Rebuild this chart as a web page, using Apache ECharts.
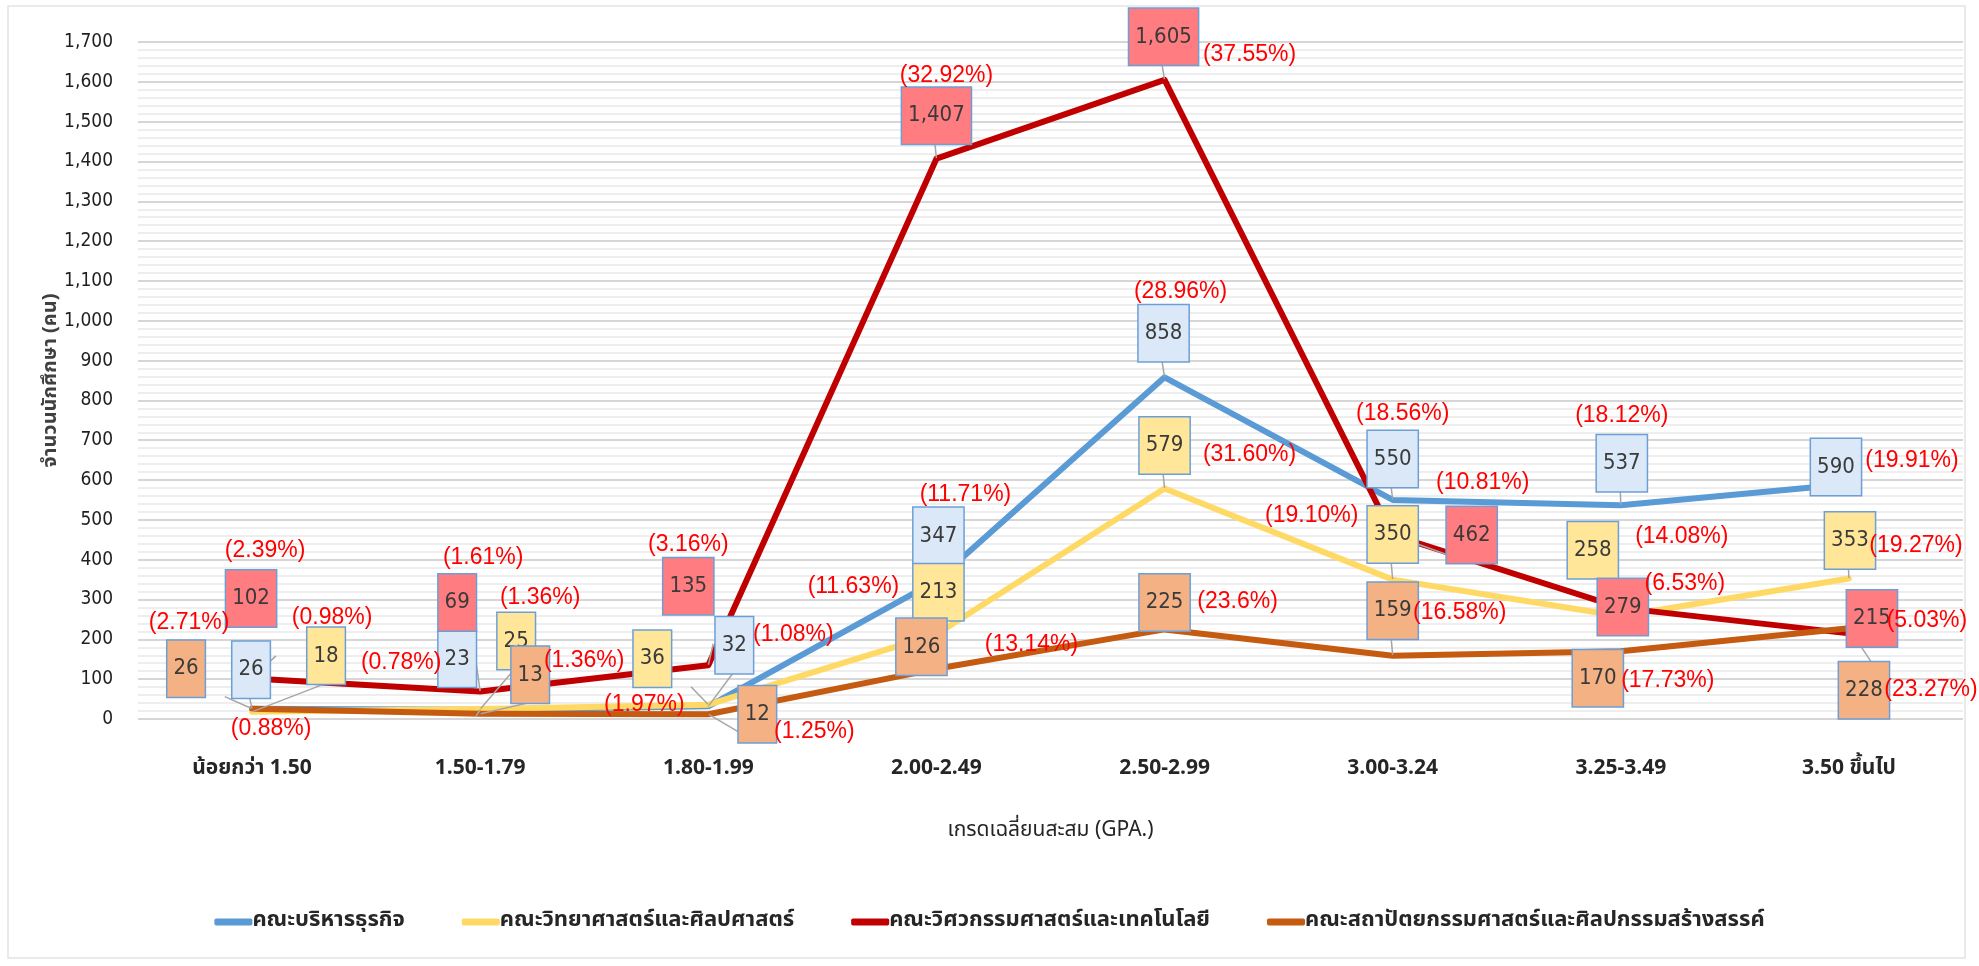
<!DOCTYPE html>
<html>
<head>
<meta charset="utf-8">
<title>จำนวนนักศึกษาตามเกรดเฉลี่ยสะสม</title>
<script src="https://cdn.jsdelivr.net/npm/echarts@6/dist/echarts.min.js"></script>
<style>
  html, body { margin: 0; padding: 0; background: #ffffff; }
  #chart { width: 1979px; height: 966px; }
</style>
</head>
<body>
<div id="chart"></div>
<script>
// ข้อมูล
var categories = ["น้อยกว่า 1.50", "1.50-1.79", "1.80-1.99", "2.00-2.49", "2.50-2.99", "3.00-3.24", "3.25-3.49", "3.50 ขึ้นไป"];
var seriesNames = [
  "คณะบริหารธุรกิจ",
  "คณะวิทยาศาสตร์และศิลปศาสตร์",
  "คณะวิศวกรรมศาสตร์และเทคโนโลยี",
  "คณะสถาปัตยกรรมศาสตร์และศิลปกรรมสร้างสรรค์"
];
var businessValues = [26, 23, 32, 347, 858, 550, 537, 590];
var businessPct = ["0.88%", "0.78%", "1.08%", "11.71%", "28.96%", "18.56%", "18.12%", "19.91%"];
var scienceValues = [18, 25, 36, 213, 579, 350, 258, 353];
var sciencePct = ["0.98%", "1.36%", "1.97%", "11.63%", "31.60%", "19.10%", "14.08%", "19.27%"];
var engValues = [102, 69, 135, 1407, 1605, 462, 279, 215];
var engPct = ["2.39%", "1.61%", "3.16%", "32.92%", "37.55%", "10.81%", "6.53%", "5.03%"];
var archValues = [26, 13, 12, 126, 225, 159, 170, 228];
var archPct = ["2.71%", "1.36%", "1.25%", "13.14%", "23.6%", "16.58%", "17.73%", "23.27%"];
var yMin = 0, yMax = 1700, yStep = 100;

// ตำแหน่งป้ายกำกับ (เลื่อนจากจุดข้อมูล, px)
var boxOffsets = [
  [[-1, -39], [-23, -51], [26, -61], [2, -45], [-1, -44], [0, -41], [1, -42], [-13, -17]],
  [[74, -56], [36, -68], [-56, -46], [2, -42], [0, -43], [0, -45], [-28, -66], [1, -38]],
  [[-1, -80], [-23, -89], [-20, -79], [0, -43], [-1, -43], [79, 0], [2, -1], [23, -15]],
  [[-66, -40], [50, -39], [49, 0], [-15, -22], [0, -27], [0, -45], [-23, 27], [15, 62]]
];
var pctOffsets = [
  [[19, 20], [-79, -47], [85, -72], [29, -86], [16, -86], [10, -86], [1, -89], [63, -23]],
  [[80, -94], [60, -111], [-64, 0], [-83, -48], [85, -34], [-81, -64], [61, -80], [67, -33]],
  [[13, -128], [3, -134], [-20, -121], [10, -83], [85, -25], [90, -52], [64, -24], [78, -13]],
  [[-63, -86], [104, -53], [106, 17], [95, -24], [73, -28], [67, -43], [47, 29], [82, 61]]
];

var lineColors = ["#5b9bd5", "#ffd966", "#c00000", "#c55a11"];
var boxColors = ["#dae8f7", "#ffe699", "#ff7c80", "#f4b183"];
var allValues = [businessValues, scienceValues, engValues, archValues];
var allPct = [businessPct, sciencePct, engPct, archPct];

var thaiFont = "'Noto Sans Thai', 'Noto Sans', 'DejaVu Sans', sans-serif";
var boxFont = "'Liberation Sans Narrow', 'DejaVu Sans Condensed', 'Liberation Sans', sans-serif";

var series = [];
allValues.forEach(function (vals, s) {
  series.push({
    name: seriesNames[s],
    type: "line",
    data: vals.map(function (v, i) {
      return { value: v, label: { offset: boxOffsets[s][i] } };
    }),
    symbol: "circle",
    symbolSize: 1,
    itemStyle: { color: lineColors[s] },
    lineStyle: { width: 6, color: lineColors[s], cap: "round", join: "round" },
    label: {
      show: true,
      position: "inside",
      formatter: function (p) { return p.value.toLocaleString("en-US"); },
      fontFamily: boxFont,
      fontSize: 22,
      lineHeight: 24,
      color: "#3a3a3a",
      backgroundColor: boxColors[s],
      borderColor: "#6d9fd6",
      borderWidth: 1.5,
      padding: [16, 6]
    },
    labelLine: { show: true, lineStyle: { color: "#a6a6a6", width: 1.5 } },
    z: 3
  });
});
allPct.forEach(function (pcts, s) {
  series.push({
    name: seriesNames[s] + " %",
    type: "line",
    data: allValues[s].map(function (v, i) {
      return { value: v, label: { offset: pctOffsets[s][i] } };
    }),
    symbol: "circle",
    symbolSize: 1,
    itemStyle: { color: "rgba(0,0,0,0)" },
    lineStyle: { width: 0, opacity: 0 },
    silent: true,
    label: {
      show: true,
      position: "inside",
      formatter: function (p) { return "(" + pcts[p.dataIndex] + ")"; },
      fontFamily: "'Liberation Sans', sans-serif",
      fontSize: 23,
      color: "#ff0000"
    },
    z: 4
  });
});

var chart = echarts.init(document.getElementById("chart"));
chart.setOption({
  animation: false,
  backgroundColor: "#ffffff",
  graphic: [{
    type: "rect",
    shape: { x: 8, y: 6, width: 1957, height: 952 },
    style: { fill: "none", stroke: "#e3e3e3", lineWidth: 1.5 },
    silent: true
  }],
  grid: { left: 138, right: 16, top: 42, bottom: 247 },
  legend: {
    data: seriesNames,
    top: 906,
    left: "center",
    icon: "roundRect",
    itemWidth: 38,
    itemHeight: 7,
    itemGap: 57,
    textStyle: { fontFamily: thaiFont, fontSize: 22, fontWeight: "bold", color: "#262626", padding: [0, 0, 0, -5] }
  },
  xAxis: {
    type: "category",
    data: categories,
    name: "เกรดเฉลี่ยนสะสม (GPA.)",
    nameLocation: "middle",
    nameGap: 102,
    nameTextStyle: { fontFamily: thaiFont, fontSize: 21, color: "#262626" },
    axisLine: { show: false },
    axisTick: { show: false },
    axisLabel: { margin: 40, fontFamily: thaiFont, fontSize: 21, fontWeight: "bold", color: "#262626" }
  },
  yAxis: {
    type: "value",
    min: yMin,
    max: yMax,
    interval: yStep,
    name: "จำนวนนักศึกษา (คน)",
    nameLocation: "middle",
    nameGap: 76,
    nameMoveOverlap: false,
    nameTextStyle: { fontFamily: thaiFont, fontSize: 20, fontWeight: "bold", color: "#404040" },
    axisLine: { show: false },
    axisTick: { show: false },
    axisLabel: {
      margin: 25,
      fontFamily: "'DejaVu Sans Condensed', 'DejaVu Sans', sans-serif",
      fontSize: 19,
      color: "#1f1f1f",
      formatter: function (v) { return v.toLocaleString("en-US"); }
    },
    splitLine: { lineStyle: { color: "#d6d6d6", width: 2 } },
    minorTick: { show: false, splitNumber: 5 },
    minorSplitLine: { show: true, lineStyle: { color: "#e9e9e9", width: 1.5 } }
  },
  series: series
});
</script>
</body>
</html>
